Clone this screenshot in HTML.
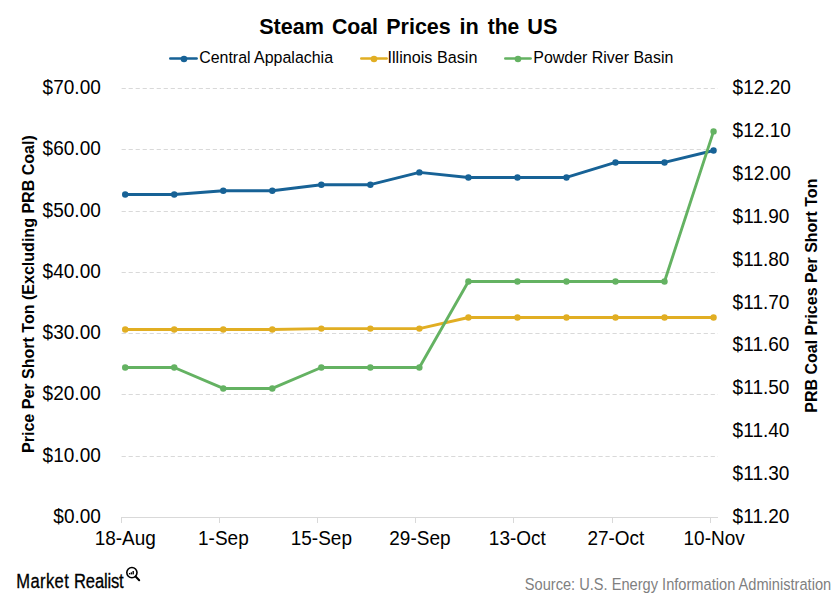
<!DOCTYPE html>
<html><head><meta charset="utf-8"><style>
html,body{margin:0;padding:0;background:#fff;}
body{width:840px;height:600px;overflow:hidden;position:relative;}
svg{position:absolute;left:0;top:0;}
text{font-family:"Liberation Sans",sans-serif;fill:#000;}
</style></head><body>
<svg width="840" height="600" viewBox="0 0 840 600">
<line x1="170.3" y1="58.5" x2="196.6" y2="58.5" stroke="#176296" stroke-width="2.6" stroke-linecap="round"/><circle cx="184" cy="59" r="3.3" fill="#176296"/><line x1="361.3" y1="58.5" x2="386.6" y2="58.5" stroke="#E1AE23" stroke-width="2.6" stroke-linecap="round"/><circle cx="374" cy="59" r="3.3" fill="#E1AE23"/><line x1="505.3" y1="58.5" x2="530.6" y2="58.5" stroke="#64B262" stroke-width="2.6" stroke-linecap="round"/><circle cx="518" cy="59" r="3.3" fill="#64B262"/>
<line x1="121" y1="456.5" x2="718" y2="456.5" stroke="#D9D9D9" stroke-width="1" stroke-dasharray="4.2,2.813" stroke-dashoffset="-0.6"/><line x1="121" y1="394.5" x2="718" y2="394.5" stroke="#D9D9D9" stroke-width="1" stroke-dasharray="4.2,2.813" stroke-dashoffset="-0.6"/><line x1="121" y1="333.5" x2="718" y2="333.5" stroke="#D9D9D9" stroke-width="1" stroke-dasharray="4.2,2.813" stroke-dashoffset="-0.6"/><line x1="121" y1="272.5" x2="718" y2="272.5" stroke="#D9D9D9" stroke-width="1" stroke-dasharray="4.2,2.813" stroke-dashoffset="-0.6"/><line x1="121" y1="211.5" x2="718" y2="211.5" stroke="#D9D9D9" stroke-width="1" stroke-dasharray="4.2,2.813" stroke-dashoffset="-0.6"/><line x1="121" y1="149.5" x2="718" y2="149.5" stroke="#D9D9D9" stroke-width="1" stroke-dasharray="4.2,2.813" stroke-dashoffset="-0.6"/><line x1="121" y1="88.5" x2="718" y2="88.5" stroke="#D9D9D9" stroke-width="1" stroke-dasharray="4.2,2.813" stroke-dashoffset="-0.6"/>
<line x1="121" y1="517.5" x2="718" y2="517.5" stroke="#D9D9D9" stroke-width="1"/><line x1="121.5" y1="517" x2="121.5" y2="523" stroke="#D9D9D9" stroke-width="1"/><line x1="219.5" y1="517" x2="219.5" y2="523" stroke="#D9D9D9" stroke-width="1"/><line x1="317.5" y1="517" x2="317.5" y2="523" stroke="#D9D9D9" stroke-width="1"/><line x1="415.5" y1="517" x2="415.5" y2="523" stroke="#D9D9D9" stroke-width="1"/><line x1="513.5" y1="517" x2="513.5" y2="523" stroke="#D9D9D9" stroke-width="1"/><line x1="612.5" y1="517" x2="612.5" y2="523" stroke="#D9D9D9" stroke-width="1"/><line x1="710.5" y1="517" x2="710.5" y2="523" stroke="#D9D9D9" stroke-width="1"/>
<polyline points="125.20,194.55 174.23,194.55 223.26,190.70 272.29,190.70 321.32,184.70 370.35,184.70 419.38,172.40 468.41,177.45 517.44,177.45 566.47,177.45 615.50,162.45 664.53,162.45 713.56,150.50" fill="none" stroke="#176296" stroke-width="2.9" stroke-linejoin="round"/><circle cx="125.20" cy="194.55" r="3.2" fill="#176296"/><circle cx="174.23" cy="194.55" r="3.2" fill="#176296"/><circle cx="223.26" cy="190.70" r="3.2" fill="#176296"/><circle cx="272.29" cy="190.70" r="3.2" fill="#176296"/><circle cx="321.32" cy="184.70" r="3.2" fill="#176296"/><circle cx="370.35" cy="184.70" r="3.2" fill="#176296"/><circle cx="419.38" cy="172.40" r="3.2" fill="#176296"/><circle cx="468.41" cy="177.45" r="3.2" fill="#176296"/><circle cx="517.44" cy="177.45" r="3.2" fill="#176296"/><circle cx="566.47" cy="177.45" r="3.2" fill="#176296"/><circle cx="615.50" cy="162.45" r="3.2" fill="#176296"/><circle cx="664.53" cy="162.45" r="3.2" fill="#176296"/><circle cx="713.56" cy="150.50" r="3.2" fill="#176296"/>
<polyline points="125.20,329.47 174.23,329.47 223.26,329.47 272.29,329.47 321.32,328.58 370.35,328.58 419.38,328.58 468.41,317.51 517.44,317.51 566.47,317.51 615.50,317.51 664.53,317.51 713.56,317.51" fill="none" stroke="#E1AE23" stroke-width="2.9" stroke-linejoin="round"/><circle cx="125.20" cy="329.47" r="3.2" fill="#E1AE23"/><circle cx="174.23" cy="329.47" r="3.2" fill="#E1AE23"/><circle cx="223.26" cy="329.47" r="3.2" fill="#E1AE23"/><circle cx="272.29" cy="329.47" r="3.2" fill="#E1AE23"/><circle cx="321.32" cy="328.58" r="3.2" fill="#E1AE23"/><circle cx="370.35" cy="328.58" r="3.2" fill="#E1AE23"/><circle cx="419.38" cy="328.58" r="3.2" fill="#E1AE23"/><circle cx="468.41" cy="317.51" r="3.2" fill="#E1AE23"/><circle cx="517.44" cy="317.51" r="3.2" fill="#E1AE23"/><circle cx="566.47" cy="317.51" r="3.2" fill="#E1AE23"/><circle cx="615.50" cy="317.51" r="3.2" fill="#E1AE23"/><circle cx="664.53" cy="317.51" r="3.2" fill="#E1AE23"/><circle cx="713.56" cy="317.51" r="3.2" fill="#E1AE23"/>
<polyline points="125.20,367.50 174.23,367.50 223.26,388.45 272.29,388.45 321.32,367.50 370.35,367.50 419.38,367.50 468.41,281.45 517.44,281.45 566.47,281.45 615.50,281.45 664.53,281.45 713.56,131.40" fill="none" stroke="#64B262" stroke-width="2.9" stroke-linejoin="round"/><circle cx="125.20" cy="367.50" r="3.2" fill="#64B262"/><circle cx="174.23" cy="367.50" r="3.2" fill="#64B262"/><circle cx="223.26" cy="388.45" r="3.2" fill="#64B262"/><circle cx="272.29" cy="388.45" r="3.2" fill="#64B262"/><circle cx="321.32" cy="367.50" r="3.2" fill="#64B262"/><circle cx="370.35" cy="367.50" r="3.2" fill="#64B262"/><circle cx="419.38" cy="367.50" r="3.2" fill="#64B262"/><circle cx="468.41" cy="281.45" r="3.2" fill="#64B262"/><circle cx="517.44" cy="281.45" r="3.2" fill="#64B262"/><circle cx="566.47" cy="281.45" r="3.2" fill="#64B262"/><circle cx="615.50" cy="281.45" r="3.2" fill="#64B262"/><circle cx="664.53" cy="281.45" r="3.2" fill="#64B262"/><circle cx="713.56" cy="131.40" r="3.2" fill="#64B262"/>
<text transform="translate(259.15,34.00) scale(0.9470,1)" style="font-size:22.8px;font-weight:bold;fill:#000">Steam</text><text transform="translate(331.97,34.00) scale(0.9319,1)" style="font-size:22.8px;font-weight:bold;fill:#000">Coal</text><text transform="translate(386.21,34.00) scale(0.9439,1)" style="font-size:22.8px;font-weight:bold;fill:#000">Prices</text><text transform="translate(459.49,34.00) scale(0.9529,1)" style="font-size:22.8px;font-weight:bold;fill:#000">in</text><text transform="translate(487.70,34.00) scale(0.9212,1)" style="font-size:22.8px;font-weight:bold;fill:#000">the</text><text transform="translate(527.25,34.00) scale(0.9533,1)" style="font-size:22.8px;font-weight:bold;fill:#000">US</text><text transform="translate(199.13,63.00) scale(0.9679,1)" style="font-size:16.5px;font-weight:normal;fill:#000">Central Appalachia</text><text transform="translate(387.54,63.00) scale(0.9798,1)" style="font-size:16.5px;font-weight:normal;fill:#000">Illinois Basin</text><text transform="translate(533.33,63.00) scale(0.9664,1)" style="font-size:16.5px;font-weight:normal;fill:#000">Powder River Basin</text><text transform="translate(53.36,523.00) scale(0.9759,1)" style="font-size:19.5px;font-weight:normal;fill:#000">$0.00</text><text transform="translate(42.62,462.00) scale(0.9759,1)" style="font-size:19.5px;font-weight:normal;fill:#000">$10.00</text><text transform="translate(42.62,400.00) scale(0.9759,1)" style="font-size:19.5px;font-weight:normal;fill:#000">$20.00</text><text transform="translate(42.62,339.00) scale(0.9759,1)" style="font-size:19.5px;font-weight:normal;fill:#000">$30.00</text><text transform="translate(42.62,278.00) scale(0.9759,1)" style="font-size:19.5px;font-weight:normal;fill:#000">$40.00</text><text transform="translate(42.62,217.00) scale(0.9759,1)" style="font-size:19.5px;font-weight:normal;fill:#000">$50.00</text><text transform="translate(42.62,155.00) scale(0.9759,1)" style="font-size:19.5px;font-weight:normal;fill:#000">$60.00</text><text transform="translate(42.62,94.00) scale(0.9759,1)" style="font-size:19.5px;font-weight:normal;fill:#000">$70.00</text><text transform="translate(732.62,523.00) scale(0.9776,1)" style="font-size:19.5px;font-weight:normal;fill:#000">$11.20</text><text transform="translate(732.62,480.00) scale(0.9776,1)" style="font-size:19.5px;font-weight:normal;fill:#000">$11.30</text><text transform="translate(732.62,437.00) scale(0.9776,1)" style="font-size:19.5px;font-weight:normal;fill:#000">$11.40</text><text transform="translate(732.62,394.00) scale(0.9776,1)" style="font-size:19.5px;font-weight:normal;fill:#000">$11.50</text><text transform="translate(732.62,351.00) scale(0.9776,1)" style="font-size:19.5px;font-weight:normal;fill:#000">$11.60</text><text transform="translate(732.62,309.00) scale(0.9776,1)" style="font-size:19.5px;font-weight:normal;fill:#000">$11.70</text><text transform="translate(732.62,266.00) scale(0.9776,1)" style="font-size:19.5px;font-weight:normal;fill:#000">$11.80</text><text transform="translate(732.62,223.00) scale(0.9776,1)" style="font-size:19.5px;font-weight:normal;fill:#000">$11.90</text><text transform="translate(732.62,180.00) scale(0.9776,1)" style="font-size:19.5px;font-weight:normal;fill:#000">$12.00</text><text transform="translate(732.62,137.00) scale(0.9776,1)" style="font-size:19.5px;font-weight:normal;fill:#000">$12.10</text><text transform="translate(732.62,94.00) scale(0.9776,1)" style="font-size:19.5px;font-weight:normal;fill:#000">$12.20</text><text transform="translate(94.65,545.00) scale(0.9733,1)" style="font-size:19.5px;font-weight:normal;fill:#000">18-Aug</text><text transform="translate(198.07,545.00) scale(0.9733,1)" style="font-size:19.5px;font-weight:normal;fill:#000">1-Sep</text><text transform="translate(290.77,545.00) scale(0.9733,1)" style="font-size:19.5px;font-weight:normal;fill:#000">15-Sep</text><text transform="translate(389.32,545.00) scale(0.9733,1)" style="font-size:19.5px;font-weight:normal;fill:#000">29-Sep</text><text transform="translate(488.84,545.00) scale(0.9733,1)" style="font-size:19.5px;font-weight:normal;fill:#000">13-Oct</text><text transform="translate(587.39,545.00) scale(0.9733,1)" style="font-size:19.5px;font-weight:normal;fill:#000">27-Oct</text><text transform="translate(683.53,545.00) scale(0.9733,1)" style="font-size:19.5px;font-weight:normal;fill:#000">10-Nov</text><text transform="translate(34.00,452.97) rotate(-90) scale(0.9723,1)" style="font-size:16.5px;font-weight:bold;fill:#000">Price Per Short Ton (Excluding PRB Coal)</text><text transform="translate(817.00,412.67) rotate(-90) scale(0.9688,1)" style="font-size:16.5px;font-weight:bold;fill:#000">PRB Coal Prices Per Short Ton</text><text transform="translate(524.76,590.00) scale(0.9385,1)" style="font-size:15.6px;font-weight:normal;fill:#7F7F7F">Source: U.S. Energy Information Administration</text><g style="stroke:#000;stroke-width:0.3px"><text transform="translate(16.30,587.5) scale(0.85,1)" textLength="61.76" lengthAdjust="spacing" style="font-size:19.5px;font-weight:normal;fill:#000;stroke:#000;stroke-width:0.3px">Market</text><text transform="translate(74.10,587.5) scale(0.85,1)" textLength="58.24" lengthAdjust="spacing" style="font-size:19.5px;font-weight:normal;fill:#000;stroke:#000;stroke-width:0.3px">Realist</text></g>
<g fill="none" stroke="#000" stroke-width="1.6" stroke-linecap="round">
<circle cx="131.9" cy="572.6" r="5.1"/>
<line x1="135.6" y1="576.5" x2="139.2" y2="580.2" stroke-width="2"/>
</g>
<g fill="#000">
<rect x="128.9" y="573" width="1.4" height="1.4"/>
<rect x="130.7" y="572.3" width="1.4" height="2.1"/>
<rect x="132.5" y="571" width="1.4" height="3.4"/>
</g>
</svg>
</body></html>
